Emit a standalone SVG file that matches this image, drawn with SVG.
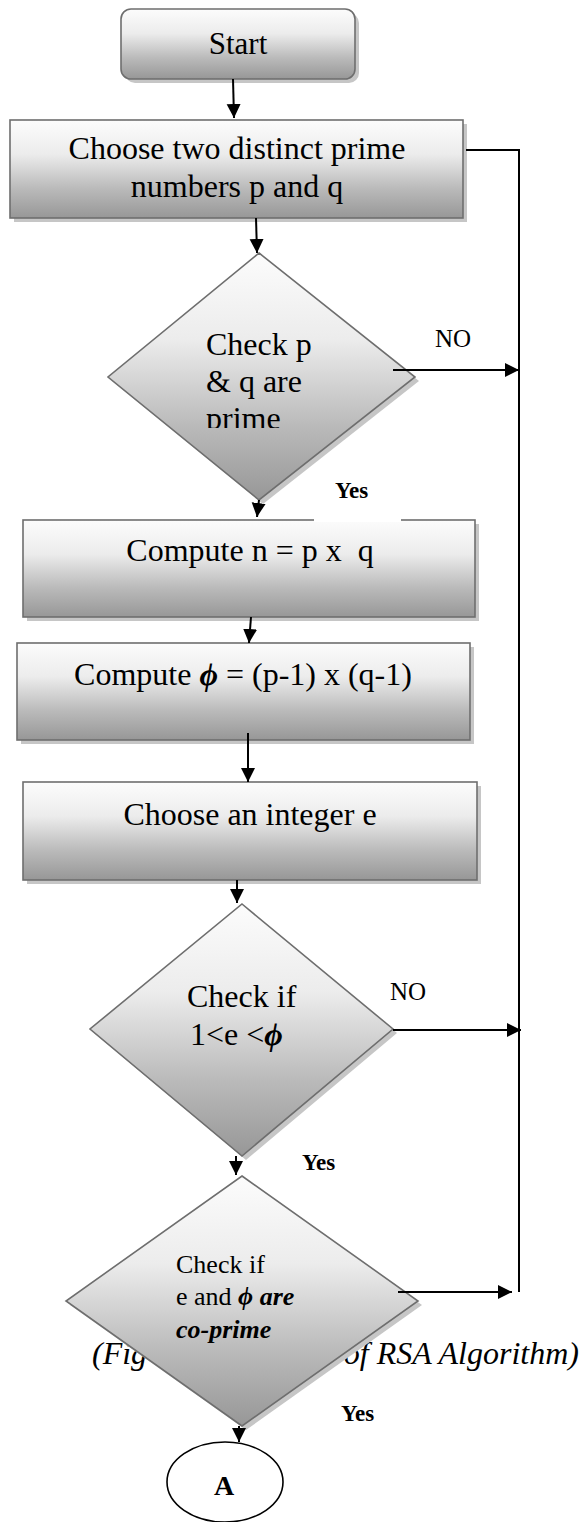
<svg xmlns="http://www.w3.org/2000/svg" width="583" height="1522" viewBox="0 0 583 1522">
  <defs>
    <linearGradient id="g" x1="0" y1="0" x2="0" y2="1">
      <stop offset="0" stop-color="#fcfcfc"/>
      <stop offset="0.35" stop-color="#ececec"/>
      <stop offset="0.7" stop-color="#bababa"/>
      <stop offset="1" stop-color="#979797"/>
    </linearGradient>
    <marker id="ah" markerUnits="userSpaceOnUse" markerWidth="16" markerHeight="16" refX="14" refY="7" orient="auto">
      <path d="M0,0 L14,7 L0,14 Z" fill="#000"/>
    </marker>
    <clipPath id="c1">
      <rect x="100" y="300" width="320" height="128"/>
    </clipPath>
    <style>
      .sh { fill: #c6c6c6; stroke: none; }
      .nd { fill: url(#g); stroke: #6e6e6e; stroke-width: 1.6; }
      text { font-family: "Times New Roman", "Liberation Serif", "DejaVu Serif", serif; fill: #000; }
      .t32 { font-size: 32px; }
      .t26 { font-size: 26px; }
      .lbl { font-size: 25px; }
      .yes { font-size: 23px; font-weight: bold; }
      .bi { font-weight: bold; font-style: italic; }
      .cn { stroke: #000; stroke-width: 2; fill: none; }
      .cna { stroke: #000; stroke-width: 2; fill: none; marker-end: url(#ah); }
    </style>
  </defs>
  <rect width="583" height="1522" fill="#fff"/>

  <!-- caption (partly hidden behind decision) -->
  <g id="caption">
    <text x="92" y="1364" font-size="32" font-style="italic">(Fig</text>
    <text x="579" y="1364" font-size="32" font-style="italic" text-anchor="end">of RSA Algorithm)</text>
  </g>

  <g id="start">
    <rect class="sh" x="125" y="13" width="234" height="70" rx="10"/>
    <rect class="nd" x="121" y="9" width="234" height="70" rx="10"/>
    <text x="238" y="54" font-size="31" text-anchor="middle">Start</text>
  </g>

  <g id="choose-primes">
    <rect class="sh" x="14" y="124" width="453" height="98"/>
    <rect class="nd" x="10" y="120" width="453" height="98"/>
    <text class="t32" x="237" y="159" text-anchor="middle">Choose two distinct prime</text>
    <text class="t32" x="237" y="197" text-anchor="middle">numbers p and q</text>
  </g>

  <g id="check-prime">
    <polygon class="sh" points="263,257 419,381 263,504 112,381"/>
    <polygon class="nd" points="259,253 415,377 259,500 108,377"/>
    <g clip-path="url(#c1)">
      <text class="t32" x="206" y="355">Check p</text>
      <text class="t32" x="206" y="392">&amp; q are</text>
      <text class="t32" x="206" y="429">prime</text>
    </g>
  </g>

  <g id="compute-n">
    <rect class="sh" x="27" y="524" width="452" height="97"/>
    <rect class="nd" x="23" y="520" width="452" height="97"/>
    <text class="t32" x="250" y="561" text-anchor="middle" style="white-space:pre">Compute n = p x  q</text>
  </g>

  <g id="yes1-box">
    <rect x="314" y="465" width="87" height="57" fill="#fff"/>
  </g>

  <g id="compute-phi">
    <rect class="sh" x="21" y="647" width="453" height="97"/>
    <rect class="nd" x="17" y="643" width="453" height="97"/>
    <text class="t32" x="243" y="685" text-anchor="middle">Compute <tspan class="bi">ϕ</tspan> = (p-1) x (q-1)</text>
  </g>

  <g id="choose-e">
    <rect class="sh" x="27" y="786" width="454" height="98"/>
    <rect class="nd" x="23" y="782" width="454" height="98"/>
    <text class="t32" x="250" y="825" text-anchor="middle">Choose an integer e</text>
  </g>

  <g id="check-range">
    <polygon class="sh" points="246,908 397,1033 246,1160 94,1033"/>
    <polygon class="nd" points="242,904 393,1029 242,1156 90,1029"/>
    <text class="t32" x="187" y="1007">Check if</text>
    <text class="t32" x="190" y="1045">1&lt;e &lt;<tspan class="bi">ϕ</tspan></text>
  </g>

  <g id="check-coprime">
    <polygon class="sh" points="246,1180 422,1305 246,1430 70,1305"/>
    <polygon class="nd" points="242,1176 418,1301 242,1426 66,1301"/>
    <text class="t26" x="176" y="1273">Check if</text>
    <text class="t26" x="176" y="1305">e and <tspan class="bi">ϕ are</tspan></text>
    <text class="t26 bi" x="176" y="1338">co-prime</text>
  </g>

  <g id="connector-a">
    <ellipse cx="225" cy="1482" rx="58" ry="40" fill="#fff" stroke="#000" stroke-width="1.6"/>
    <text x="224" y="1495" font-size="28" font-weight="bold" text-anchor="middle">A</text>
  </g>

  <g id="connectors">
    <line class="cna" x1="233" y1="79" x2="234" y2="118"/>
    <line class="cna" x1="256" y1="218" x2="257" y2="253"/>
    <line class="cna" x1="259" y1="500" x2="257" y2="517"/>
    <line class="cna" x1="251" y1="617" x2="249" y2="643"/>
    <line class="cna" x1="248" y1="733" x2="248" y2="782"/>
    <line class="cna" x1="237" y1="880" x2="237" y2="903"/>
    <line class="cna" x1="236" y1="1156" x2="236" y2="1175"/>
    <line class="cna" x1="239" y1="1426" x2="239" y2="1442"/>
    <polyline class="cn" points="466,150 519,150 519,1292"/>
    <line class="cna" x1="393" y1="370" x2="519" y2="370"/>
    <line class="cna" x1="393" y1="1030" x2="521" y2="1030"/>
    <line class="cna" x1="398" y1="1292" x2="512" y2="1292"/>
  </g>

  <g id="labels">
    <text class="lbl" x="435" y="347">NO</text>
    <text class="lbl" x="390" y="1000">NO</text>
    <text class="yes" x="335" y="498">Yes</text>
    <text class="yes" x="302" y="1170">Yes</text>
    <text class="yes" x="341" y="1421">Yes</text>
  </g>
</svg>
